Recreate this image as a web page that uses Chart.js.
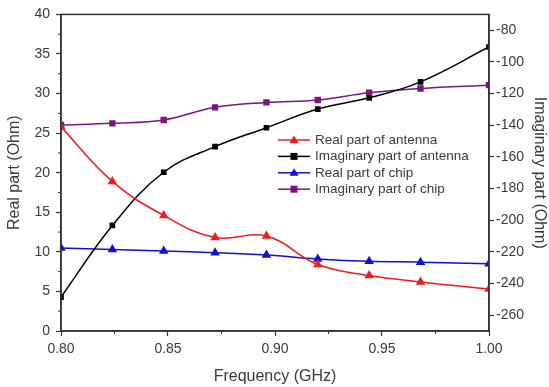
<!DOCTYPE html>
<html>
<head>
<meta charset="utf-8">
<script src="https://cdn.jsdelivr.net/npm/chart.js@4/dist/chart.umd.min.js"></script>
<style>
  body { margin: 0; background: #fff; }
  canvas { display: block; }
</style>
</head>
<body>
<canvas id="grafico" width="549" height="387"></canvas>
<script>
// dati
const freq = [0.80, 0.824, 0.848, 0.872, 0.896, 0.920, 0.944, 0.968, 1.00];
const realAntenna = [25.8, 18.9, 14.6, 11.8, 12.0, 8.4, 7.0, 6.2, 5.3];
const imagAntenna = [-248.6, -203.3, -169.7, -153.5, -141.6, -129.8, -122.7, -112.6, -90.6];
const realChip = [10.5, 10.3, 10.1, 9.9, 9.6, 9.1, 8.8, 8.7, 8.5];
const imagChip = [-139.9, -138.8, -136.7, -128.7, -125.6, -124.1, -119.5, -116.8, -114.7];

const xTicks = [0.80, 0.85, 0.90, 0.95, 1.00];
const xMinor = [0.825, 0.875, 0.925, 0.975];
const yTicks = [0, 5, 10, 15, 20, 25, 30, 35, 40];
const yMinor = [2.5, 7.5, 12.5, 17.5, 22.5, 27.5, 32.5, 37.5];
const y2Ticks = [-260, -240, -220, -200, -180, -160, -140, -120, -100, -80];

const FONT = "'Liberation Sans', Arial, sans-serif";
const TXT = '#3a3a3a';
const AXE = '#333';

function serie(label, vals, color, shape, axis, size) {
  return {
    label: label,
    data: vals.map((v, i) => ({ x: freq[i], y: v })),
    yAxisID: axis,
    borderColor: color,
    backgroundColor: color,
    borderWidth: 1.5,
    pointStyle: shape,
    pointRadius: size,
    pointBorderWidth: 0,
    tension: 0.4
  };
}

function fissaTicks(valori) {
  return (scale) => { scale.ticks = valori.map(v => ({ value: v })); };
}

// cornice + tacche secondarie
const cornice = {
  id: 'cornice',
  afterDraw(chart) {
    const ctx = chart.ctx, a = chart.chartArea;
    ctx.save();
    ctx.strokeStyle = AXE;
    ctx.lineWidth = 1.5;
    ctx.strokeRect(a.left, a.top, a.right - a.left, a.bottom - a.top);
    ctx.lineWidth = 1;
    ctx.beginPath();
    for (const v of xMinor) {
      const px = chart.scales.x.getPixelForValue(v);
      ctx.moveTo(px, a.bottom); ctx.lineTo(px, a.bottom + 3);
    }
    for (const v of yMinor) {
      const py = chart.scales.y.getPixelForValue(v);
      ctx.moveTo(a.left, py); ctx.lineTo(a.left - 3, py);
    }
    ctx.stroke();
    ctx.restore();
  }
};

// legenda dentro l'area del grafico
const legenda = {
  id: 'legenda',
  afterDraw(chart) {
    const ctx = chart.ctx;
    const x0 = 278, x1 = 310, y0 = 140, dy = 16.4;
    ctx.save();
    ctx.font = '13.5px ' + FONT;
    ctx.textBaseline = 'middle';
    chart.data.datasets.forEach((ds, i) => {
      const y = y0 + i * dy;
      ctx.strokeStyle = ds.borderColor;
      ctx.lineWidth = 1.5;
      ctx.beginPath();
      ctx.moveTo(x0, y); ctx.lineTo(x1, y);
      ctx.stroke();
      const cx = (x0 + x1) / 2;
      ctx.fillStyle = ds.backgroundColor;
      ctx.beginPath();
      if (ds.pointStyle === 'triangle') {
        ctx.moveTo(cx, y - 4.5); ctx.lineTo(cx + 4.5, y + 3); ctx.lineTo(cx - 4.5, y + 3);
      } else {
        ctx.rect(cx - 3.5, y - 3.5, 7, 7);
      }
      ctx.fill();
      ctx.fillStyle = TXT;
      ctx.fillText(ds.label, 315, y);
    });
    ctx.restore();
  }
};

new Chart(document.getElementById('grafico'), {
  type: 'line',
  data: {
    datasets: [
      serie('Real part of antenna', realAntenna, '#ee1c1c', 'triangle', 'y', 5.5),
      serie('Imaginary part of antenna', imagAntenna, '#000000', 'rect', 'y2', 4),
      serie('Real part of chip', realChip, '#1010d0', 'triangle', 'y', 5.5),
      serie('Imaginary part of chip', imagChip, '#7a1480', 'rect', 'y2', 4.5)
    ]
  },
  options: {
    responsive: false,
    animation: false,
    devicePixelRatio: 1,
    layout: { padding: { top: 14, left: 0, right: 0, bottom: 0 } },
    plugins: { legend: { display: false }, tooltip: { enabled: false } },
    scales: {
      x: {
        type: 'linear', min: 0.8, max: 1.0,
        afterBuildTicks: fissaTicks(xTicks),
        afterFit: (s) => { s.height = 56; },
        grid: { drawOnChartArea: false, tickLength: 5, tickColor: AXE, tickWidth: 1.2 },
        border: { color: AXE, width: 1.5 },
        ticks: { color: TXT, font: { family: FONT, size: 14 }, padding: 5, maxRotation: 0,
                 callback: (v) => Number(v).toFixed(2) },
        title: { display: true, text: 'Frequency (GHz)', color: TXT,
                 font: { family: FONT, size: 16 }, padding: { top: 0, bottom: 1 } }
      },
      y: {
        position: 'left', min: 0, max: 40,
        afterBuildTicks: fissaTicks(yTicks),
        afterFit: (s) => { s.width = 61; },
        grid: { drawOnChartArea: false, tickLength: 5, tickColor: AXE, tickWidth: 1.2 },
        border: { color: AXE, width: 1.5 },
        ticks: { color: TXT, font: { family: FONT, size: 14 }, padding: 6 },
        title: { display: true, text: 'Real part (Ohm)', color: TXT,
                 font: { family: FONT, size: 16 }, padding: { top: 5, bottom: 0 } }
      },
      y2: {
        position: 'right', min: -270, max: -70,
        afterBuildTicks: fissaTicks(y2Ticks),
        afterFit: (s) => { s.width = 60; },
        grid: { drawOnChartArea: false, tickLength: 5, tickColor: AXE, tickWidth: 1.2 },
        border: { color: AXE, width: 1.5 },
        ticks: { color: TXT, font: { family: FONT, size: 14 }, padding: 2 },
        title: { display: true, text: 'Imaginary part (Ohm)', color: TXT,
                 font: { family: FONT, size: 16 }, padding: { top: 0, bottom: 0 } }
      }
    }
  },
  plugins: [cornice, legenda]
});
</script>
</body>
</html>
